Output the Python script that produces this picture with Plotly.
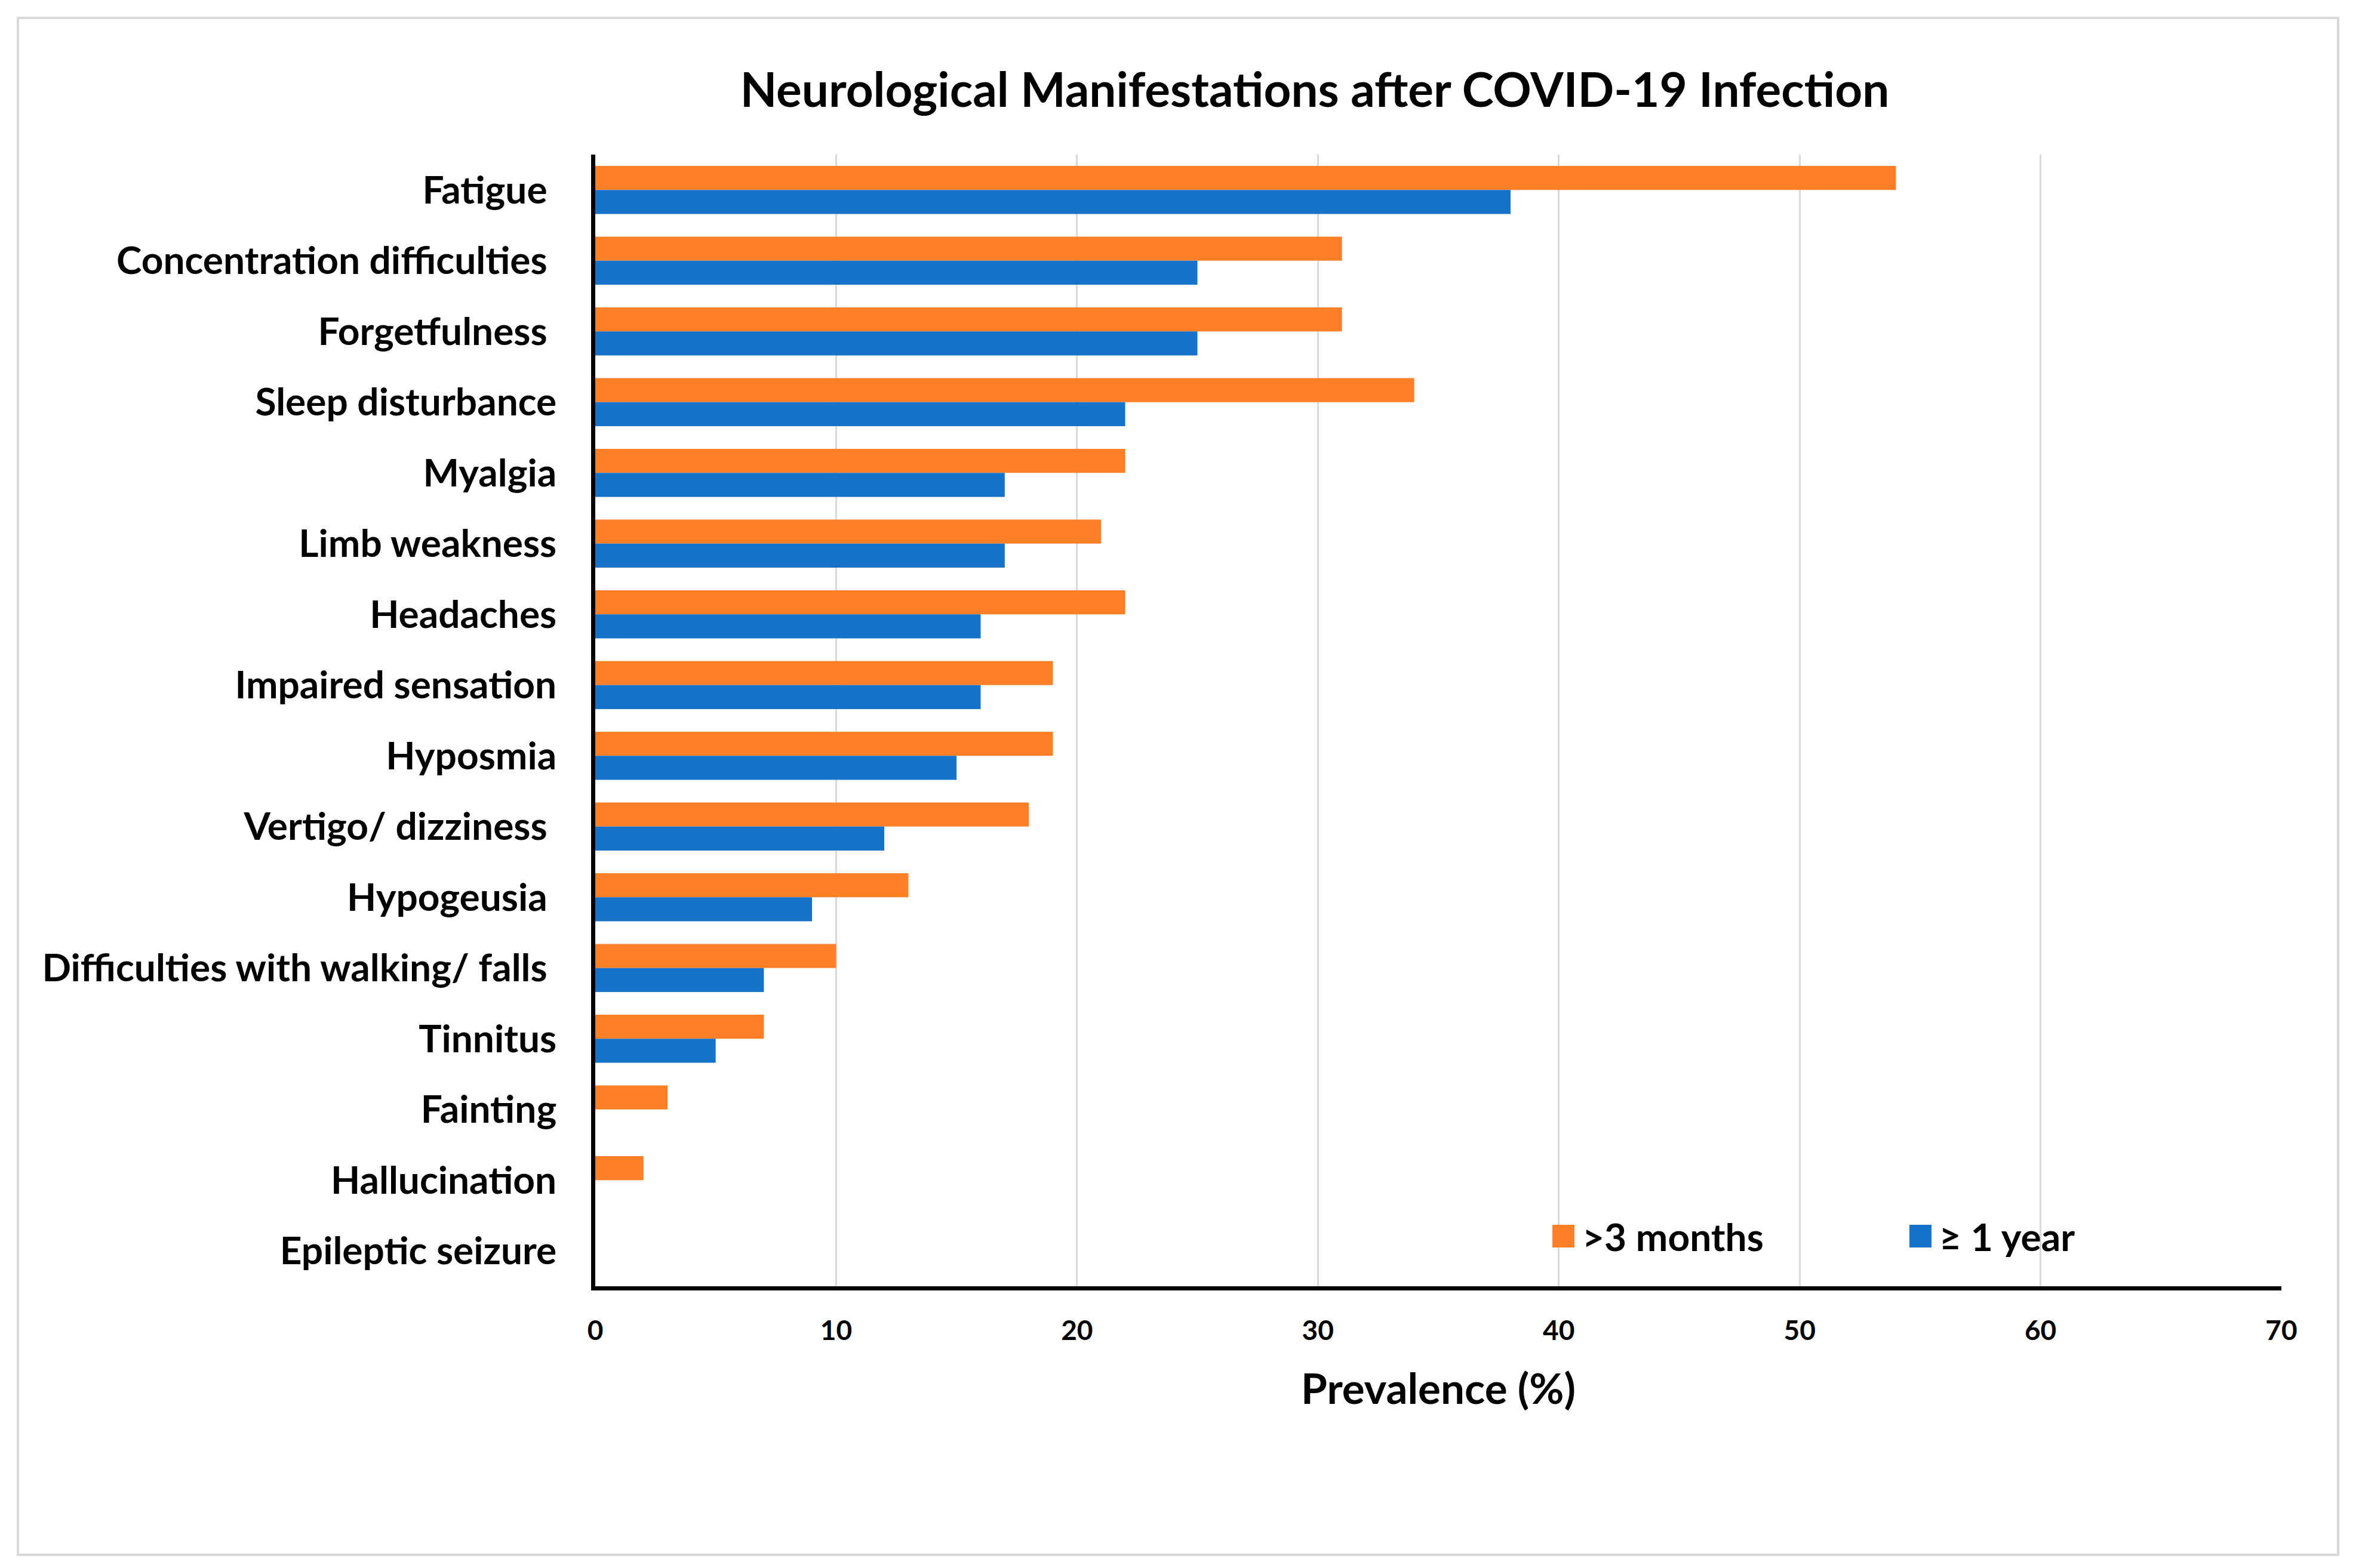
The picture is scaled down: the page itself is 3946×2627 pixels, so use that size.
import plotly.graph_objects as go

categories = [
    "Fatigue\u00a0", "Concentration difficulties\u00a0", "Forgetfulness\u00a0",
    "Sleep disturbance", "Myalgia", "Limb weakness", "Headaches",
    "Impaired sensation", "Hyposmia", "Vertigo/ dizziness\u00a0", "Hypogeusia\u00a0",
    "Difficulties with walking/ falls\u00a0", "Tinnitus", "Fainting",
    "Hallucination", "Epileptic seizure",
]
months3 = [54, 31, 31, 34, 22, 21, 22, 19, 19, 18, 13, 10, 7, 3, 2, 0]
year1 = [38, 25, 25, 22, 17, 17, 16, 16, 15, 12, 9, 7, 5, 0, 0, 0]
series_names = [">3 months", "\u2265 1 year"]
series_colors = ["#FF7F27", "#1773CA"]
x_ticks = [0, 10, 20, 30, 40, 50, 60, 70]

W, H = 3946, 2627
L, R, T, B = 997, 125, 259, 472
pw, ph = W - L - R, H - T - B

FONT = "Lato"

ylabels = [f"<b>{c}</b>" for c in categories]

fig = go.Figure()
fig.add_trace(go.Bar(y=ylabels, x=months3, orientation="h", name=series_names[0],
                     marker=dict(color=series_colors[0], line=dict(width=0)), showlegend=False))
fig.add_trace(go.Bar(y=ylabels, x=year1, orientation="h", name=series_names[1],
                     marker=dict(color=series_colors[1], line=dict(width=0)), showlegend=False))

def px_x(p):
    return (p - L) / pw

def px_y(p):
    return (H - B - p) / ph

fig.update_layout(
    width=W, height=H,
    margin=dict(l=L, r=R, t=T, b=B),
    paper_bgcolor="white", plot_bgcolor="white",
    barmode="group", bargap=0.32, bargroupgap=0,
    font=dict(family=FONT, color="black"),
    title=dict(text="<b>Neurological Manifestations after COVID-19 Infection</b>",
               x=2202 / W, xanchor="center", y=1 - 151 / H, yanchor="middle",
               font=dict(size=80, family=FONT, color="black")),
    xaxis=dict(range=[0, 70], tickvals=x_ticks, ticktext=[f"<b>{v}</b>" for v in x_ticks],
               showgrid=True, gridcolor="#D9D9D9", gridwidth=3, zeroline=False,
               showline=True, linecolor="black", linewidth=7,
               ticks="", ticklabelstandoff=28,
               tickfont=dict(size=46, family=FONT, color="black"),
               title=dict(text="<b>Prevalence (%)</b>", standoff=51,
                          font=dict(size=71, family=FONT, color="black"))),
    yaxis=dict(autorange="reversed", type="category",
               showgrid=False, zeroline=False,
               showline=True, linecolor="black", linewidth=7,
               ticks="", ticklabelstandoff=45,
               tickfont=dict(size=64, family=FONT, color="black")),
    showlegend=False,
)

# legend drawn as key squares + text
legend_x = [2600, 3198]
legend_yc = 2071
for name, color, lx in zip(series_names, series_colors, legend_x):
    fig.add_shape(type="rect", xref="paper", yref="paper",
                  x0=px_x(lx), x1=px_x(lx + 37), y0=px_y(legend_yc + 19), y1=px_y(legend_yc - 19),
                  line=dict(width=0), fillcolor=color)
    fig.add_annotation(xref="paper", yref="paper", x=px_x(lx + 48), y=px_y(legend_yc),
                       xanchor="left", yanchor="middle", showarrow=False,
                       text=f"<b>{name}</b>", font=dict(size=64, family=FONT, color="black"))

fig.add_shape(type="rect", xref="paper", yref="paper",
              x0=px_x(30), x1=px_x(3916), y0=px_y(2605), y1=px_y(30),
              line=dict(color="#D9D9D9", width=4), fillcolor="rgba(0,0,0,0)", layer="below")

fig.write_html("out.html", config={"displayModeBar": False},
               post_script="document.body.style.margin='0';document.body.style.overflow='hidden';")
